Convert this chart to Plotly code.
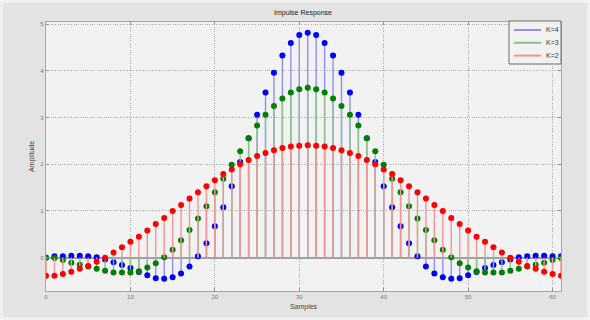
import numpy as np
import plotly.graph_objects as go

samples = list(range(62))

k4 = [0.00, 0.03, 0.03, 0.04, 0.04, 0.03, 0.01, -0.04, -0.10, -0.16, -0.22, -0.31, -0.38, -0.44, -0.45, -0.42,
      -0.34, -0.19, 0.03, 0.31, 0.67, 1.08, 1.53, 2.05, 2.56, 3.06, 3.54, 3.96, 4.33, 4.60, 4.77, 4.82,
      4.77, 4.60, 4.33, 3.96, 3.54, 3.06, 2.56, 2.05, 1.53, 1.08, 0.67, 0.31, 0.03, -0.19, -0.34, -0.42,
      -0.45, -0.44, -0.38, -0.31, -0.22, -0.16, -0.10, -0.04, 0.01, 0.03, 0.04, 0.04, 0.03, 0.03]

k3 = [0.00, -0.01, -0.05, -0.11, -0.15, -0.19, -0.24, -0.28, -0.32, -0.32, -0.32, -0.29, -0.21, -0.12, 0.01, 0.17,
      0.37, 0.59, 0.84, 1.10, 1.40, 1.69, 1.99, 2.28, 2.56, 2.83, 3.06, 3.25, 3.41, 3.54, 3.61, 3.64,
      3.61, 3.54, 3.41, 3.25, 3.06, 2.83, 2.56, 2.28, 1.99, 1.69, 1.40, 1.10, 0.84, 0.59, 0.37, 0.17,
      0.01, -0.12, -0.21, -0.29, -0.32, -0.32, -0.32, -0.28, -0.24, -0.19, -0.15, -0.11, -0.05, -0.01]

k2 = [-0.39, -0.39, -0.35, -0.30, -0.24, -0.18, -0.09, 0.00, 0.11, 0.22, 0.34, 0.45, 0.58, 0.72, 0.85, 1.00,
      1.13, 1.27, 1.40, 1.53, 1.66, 1.79, 1.89, 2.00, 2.09, 2.18, 2.24, 2.30, 2.35, 2.38, 2.40, 2.41,
      2.40, 2.38, 2.35, 2.30, 2.24, 2.18, 2.09, 2.00, 1.89, 1.79, 1.66, 1.53, 1.40, 1.27, 1.13, 1.00,
      0.85, 0.72, 0.58, 0.45, 0.34, 0.22, 0.11, 0.00, -0.09, -0.18, -0.24, -0.30, -0.35, -0.39]

series_names = ["K=4", "K=3", "K=2"]
series_values = [k4, k3, k2]
marker_colors = ["#0000ff", "#007f00", "#ff0000"]
stem_colors = ["#9090f4", "#8cc48c", "#f49494"]

FONT = "Liberation Sans, Arial, sans-serif"

# plot area geometry (px) used for the hand-drawn legend / frame
L, R, T, B = 46, 29, 22, 29
W, H = 590 - L - R, 320 - T - B


def px_x(p):
    return (p - L) / W


def px_y(p):
    return (320 - B - p) / H


fig = go.Figure()
for name, vals, mcol, scol in zip(series_names, series_values, marker_colors, stem_colors):
    x = np.asarray(samples, dtype=float)
    v = np.asarray(vals, dtype=float)
    xs = np.column_stack([x, x, np.full_like(x, np.nan)]).ravel()
    ys = np.column_stack([np.zeros_like(v), v, np.full_like(v, np.nan)]).ravel()
    fig.add_trace(go.Scatter(x=xs, y=ys, mode="lines", name=name, showlegend=False,
                             line=dict(color=scol, width=1.4), hoverinfo="skip"))
    fig.add_trace(go.Scatter(x=samples, y=vals, mode="markers", name=name, showlegend=False,
                             marker=dict(color=mcol, size=6, line=dict(width=0))))

# outer lighter frame of the figure window
fig.add_shape(type="rect", xref="paper", yref="paper",
              x0=px_x(0), x1=px_x(590), y0=px_y(320), y1=px_y(0),
              fillcolor="rgba(0,0,0,0)", line=dict(color="#f0f0f0", width=6))

# legend (drawn by hand to match the compact MATLAB legend box)
fig.add_shape(type="rect", xref="paper", yref="paper",
              x0=px_x(509), x1=px_x(561), y0=px_y(64), y1=px_y(21),
              fillcolor="#f2f2f2", line=dict(color="#6a6a6a", width=1))
for i, (name, scol) in enumerate(zip(series_names, stem_colors)):
    yy = 30 + i * 12.8
    fig.add_shape(type="line", xref="paper", yref="paper",
                  x0=px_x(514), x1=px_x(541), y0=px_y(yy), y1=px_y(yy),
                  line=dict(color=scol, width=2))
    fig.add_annotation(xref="paper", yref="paper", x=px_x(543.5), y=px_y(yy),
                       text=name, showarrow=False, xanchor="left", yanchor="middle",
                       font=dict(family=FONT, size=7, color="#333333"))

axis_common = dict(
    showline=True, linecolor="#a6a6a6", linewidth=1.3, mirror="ticks",
    ticks="inside", ticklen=3, tickcolor="#909090", tickwidth=1,
    showgrid=True, gridcolor="#ababab", gridwidth=1, griddash="1px,1.3px",
    tickfont=dict(family=FONT, size=6, color="#7a7a7a"),
)

fig.update_layout(
    width=590, height=320,
    margin=dict(l=L, r=R, t=T, b=B),
    paper_bgcolor="#e3e3e3",
    plot_bgcolor="#f2f2f2",
    title=dict(text="Impulse Response", x=303 / 590, xanchor="center", y=1 - 13 / 320, yanchor="middle",
               font=dict(family=FONT, size=7, color="#222222")),
    xaxis=dict(range=[0, 61], tickvals=[0, 10, 20, 30, 40, 50, 60], zeroline=False,
               title=dict(text="Samples", standoff=4, font=dict(family=FONT, size=7, color="#444444")),
               **axis_common),
    yaxis=dict(range=[-0.715, 5.05], tickvals=[0, 1, 2, 3, 4, 5],
               zeroline=True, zerolinecolor="#a0a0a0", zerolinewidth=1.5,
               title=dict(text="Amplitude", standoff=4, font=dict(family=FONT, size=7, color="#444444")),
               **axis_common),
    showlegend=False,
)

fig.write_html("out.html")
